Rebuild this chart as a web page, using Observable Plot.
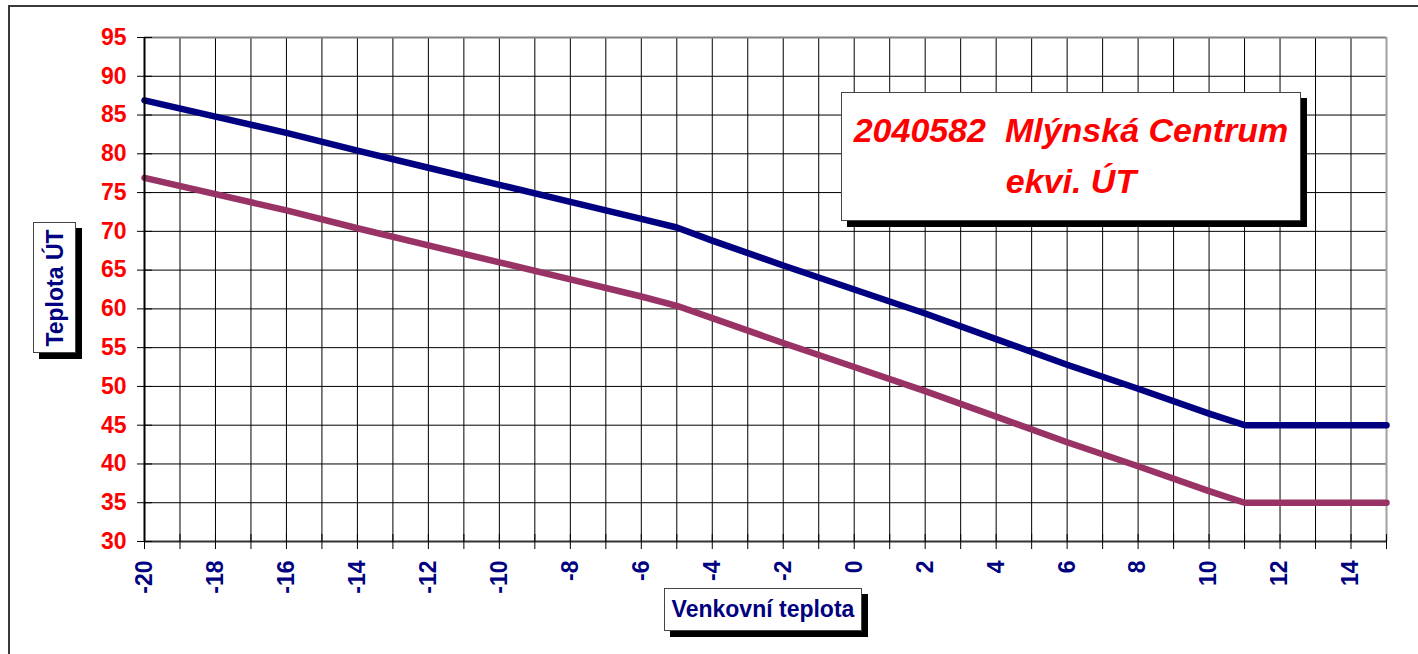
<!DOCTYPE html>
<html>
<head>
<meta charset="utf-8">
<script src="https://cdn.jsdelivr.net/npm/d3@7"></script>
<script src="https://cdn.jsdelivr.net/npm/@observablehq/plot@0.6"></script>
<style>
  html, body { margin: 0; padding: 0; background: #fff; }
  #wrap { position: relative; width: 1418px; height: 654px; overflow: hidden; }
  #border { position: absolute; left: 8px; top: 5px; width: 1500px; height: 700px;
            border-left: 2px solid #3a3a3a; border-top: 2px solid #3a3a3a; }
  .box { position: absolute; background: #fff; border: 1px solid #444;
         box-shadow: 6px 6px 0 #000; font-family: 'Liberation Sans', Arial, sans-serif;
         font-weight: bold; color: #000080; }
  #ytitle { left: 33px; top: 222px; width: 41px; height: 129px; }
  #ytitle span { position: absolute; left: 50%; top: 50%; transform: translate(-50%, -50%) rotate(-90deg);
                 white-space: nowrap; font-size: 23px; }
  #xtitle { left: 664px; top: 588px; width: 196px; height: 41px; font-size: 23px;
            display: flex; align-items: center; justify-content: center; white-space: nowrap; }
  #title { left: 841px; top: 92px; width: 460px; height: 129px; color: #ff0000;
           font-style: italic; font-size: 34px; text-align: center; line-height: 51px;
           padding-top: 12px; box-sizing: border-box; white-space: pre; }
  svg { overflow: visible; }
</style>
</head>
<body>
<div id="wrap">
  <div id="border"></div>
  <div id="chart" style="position:absolute;left:0;top:0;"></div>
  <div class="box" id="ytitle"><span>Teplota ÚT</span></div>
  <div class="box" id="xtitle">Venkovní teplota</div>
  <div class="box" id="title">2040582  Mlýnská Centrum
ekvi. ÚT</div>
</div>
<script>
// Outdoor temperature (°C)
const outdoorTemp = [-20, -18, -16, -14, -12, -10, -8, -6, -5, -4, -2, 0, 2, 4, 6, 8, 10, 11, 15];
// Supply temperature (blue line)
const supplyTemp = [86.9, 84.8, 82.7, 80.4, 78.2, 76.0, 73.8, 71.6, 70.5, 68.8, 65.6, 62.5, 59.4, 56.1, 52.8, 49.7, 46.5, 45.0, 45.0];
// Return temperature (purple line)
const returnTemp = [76.9, 74.8, 72.7, 70.4, 68.2, 66.0, 63.8, 61.6, 60.4, 58.8, 55.6, 52.5, 49.4, 46.1, 42.8, 39.7, 36.5, 35.0, 35.0];

const yTicks = [30, 35, 40, 45, 50, 55, 60, 65, 70, 75, 80, 85, 90, 95];
const xLabelTicks = [-20, -18, -16, -14, -12, -10, -8, -6, -4, -2, 0, 2, 4, 6, 8, 10, 12, 14];
const xMinorTicks = d3.range(-20, 16, 1);
const xGrid = d3.range(-19, 15, 1);
const yGrid = [35, 40, 45, 50, 55, 60, 65, 70, 75, 80, 85, 90];

const supply = outdoorTemp.map((t, i) => ({t, v: supplyTemp[i]}));
const ret = outdoorTemp.map((t, i) => ({t, v: returnTemp[i]}));

const chart = Plot.plot({
  width: 1418,
  height: 654,
  marginLeft: 144,
  marginRight: 32,
  marginTop: 37,
  marginBottom: 113,
  x: {domain: [-20, 15]},
  y: {domain: [30, 95]},
  style: {fontFamily: "'Liberation Sans', Arial, sans-serif", fontWeight: "bold", fontSize: "23px", background: "transparent", overflow: "visible"},
  marks: [
    Plot.ruleX(xGrid, {stroke: "#000", strokeWidth: 1}),
    Plot.ruleY(yGrid, {stroke: "#000", strokeWidth: 1}),
    Plot.ruleY([95], {stroke: "#808080", strokeWidth: 2}),
    Plot.ruleX([15], {stroke: "#a0a0a0", strokeWidth: 2}),
    Plot.line(ret, {x: "t", y: "v", stroke: "#993366", strokeWidth: 6.5, strokeLinejoin: "round"}),
    Plot.line(supply, {x: "t", y: "v", stroke: "#000080", strokeWidth: 6.5, strokeLinejoin: "round"}),
    Plot.ruleX([-20], {stroke: "#000", strokeWidth: 2}),
    Plot.ruleY([30], {stroke: "#333", strokeWidth: 2}),
    // tick marks crossing the axes
    Plot.axisY({ticks: yTicks, tickSize: 15, dx: 8, stroke: "#000", tickFormat: () => "", label: null}),
    Plot.axisX({ticks: xMinorTicks, tickSize: 15, dy: -7, stroke: "#000", tickFormat: () => "", label: null}),
    // tick labels
    Plot.axisY({ticks: yTicks, tickSize: 0, tickPadding: 18, fill: "#ff0000", fontSize: 23, tickFormat: d => String(d), label: null}),
    Plot.axisX({ticks: xLabelTicks, tickSize: 0, tickPadding: 19, tickRotate: -90, textAnchor: "end", lineAnchor: "middle", fill: "#000080", fontSize: 23, tickFormat: d => String(d), label: null})
  ]
});
document.getElementById("chart").appendChild(chart);
</script>
</body>
</html>
